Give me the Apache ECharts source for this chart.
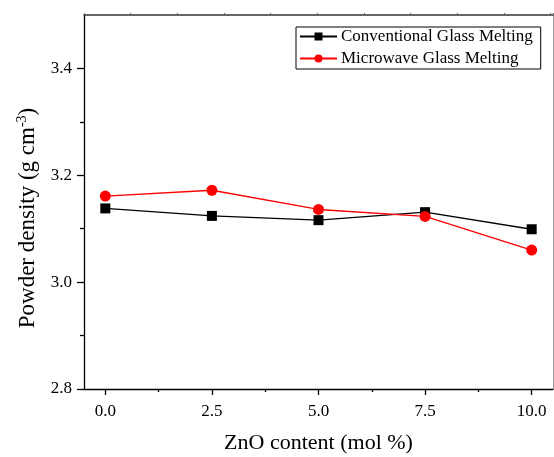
<!DOCTYPE html>
<html>
<head>
<meta charset="utf-8">
<script src="https://cdn.jsdelivr.net/npm/echarts@6/dist/echarts.min.js"></script>
<style>html,body{margin:0;padding:0;background:#fff}#c{width:554px;height:457px}</style>
</head>
<body>
<div id="c"></div>
<script>
const xValues = [0.0, 2.5, 5.0, 7.5, 10.0];
const conventional = [3.138, 3.124, 3.116, 3.131, 3.099];
const microwave = [3.161, 3.172, 3.136, 3.123, 3.060];
const seriesNames = ['Conventional Glass Melting', 'Microwave Glass Melting'];
const xTitle = 'ZnO content (mol %)';

const F = "'Liberation Serif','Times New Roman',serif";
const chart = echarts.init(document.getElementById('c'), null, {renderer: 'canvas'});
chart.setOption({
  backgroundColor: '#fff',
  animation: false,
  grid: {left: 84, right: 1, top: 15, bottom: 68, containLabel: false, outerBoundsMode: 'none'},
  legend: {
    orient: 'vertical', left: 296, top: 27,
    data: seriesNames,
    itemWidth: 37, itemHeight: 10, itemGap: 5,
    padding: [1, 8, 2, 3],
    borderColor: '#000', borderWidth: 1, backgroundColor: '#fff',
    textStyle: {fontFamily: F, fontSize: 17, color: '#000', padding: [0, 0, 0, -1]}
  },
  xAxis: [{
    type: 'value', min: -0.5, max: 10.5, interval: 2.5,
    axisLine: {onZero: false, lineStyle: {color: '#000', width: 1.3}},
    axisTick: {show: true, length: 6, lineStyle: {color: '#000', width: 1.3},
      customValues: [0, 2.5, 5, 7.5, 10]},
    axisLabel: {fontFamily: F, fontSize: 17, color: '#000', margin: 14,
      customValues: [0, 2.5, 5, 7.5, 10],
      formatter: v => v.toFixed(1)},
    splitLine: {show: false},
    name: xTitle, nameLocation: 'middle', nameGap: 43,
    nameTextStyle: {fontFamily: F, fontSize: 22, color: '#000'}
  }, {
    type: 'value', min: -0.5, max: 10.5, position: 'bottom',
    axisLine: {show: false, onZero: false},
    axisTick: {show: true, length: 3, lineStyle: {color: '#000', width: 1.3},
      customValues: [1.25, 3.75, 6.25, 8.75]},
    axisLabel: {show: false}, splitLine: {show: false}
  }, {
    type: 'value', min: 0, max: 10.05, interval: 1, position: 'top',
    axisLine: {onZero: false, lineStyle: {color: '#333', width: 1.5}},
    axisTick: {show: true, length: 2, lineStyle: {color: '#666'}},
    axisLabel: {show: false}, splitLine: {show: false}
  }],
  yAxis: [{
    type: 'value', min: 2.8, max: 3.5, interval: 0.2,
    axisLine: {show: true, onZero: false, lineStyle: {color: '#000', width: 1.3}},
    axisTick: {show: true, length: 7, lineStyle: {color: '#000', width: 1.3},
      customValues: [2.8, 3.0, 3.2, 3.4]},
    axisLabel: {fontFamily: F, fontSize: 17, color: '#000', margin: 12,
      customValues: [2.8, 3.0, 3.2, 3.4],
      formatter: v => v.toFixed(1)},
    splitLine: {show: false},
    name: 'Powder density (g cm{sup|-3})', nameLocation: 'middle', nameGap: 42,
    nameTextStyle: {fontFamily: F, fontSize: 23, color: '#000', padding: [0, 32, 0, 0],
      rich: {sup: {fontFamily: F, fontSize: 14, color: '#000', verticalAlign: 'top', padding: [0,0,12,0]}}}
  }, {
    type: 'value', min: 2.8, max: 3.5, position: 'left',
    axisLine: {show: false, onZero: false},
    axisTick: {show: true, length: 4, lineStyle: {color: '#000', width: 1.3},
      customValues: [2.9, 3.1, 3.3]},
    axisLabel: {show: false}, splitLine: {show: false}
  }, {
    type: 'value', min: 2.8, max: 3.5, position: 'right',
    axisLine: {show: true, onZero: false, lineStyle: {color: '#999', width: 1}},
    axisTick: {show: false}, axisLabel: {show: false}, splitLine: {show: false}
  }],
  series: [{
    name: seriesNames[0], type: 'line',
    data: xValues.map((x, i) => [x, conventional[i]]),
    symbol: 'rect', symbolSize: 10,
    lineStyle: {color: '#000', width: 1.3},
    itemStyle: {color: '#000'}
  }, {
    name: seriesNames[1], type: 'line',
    data: xValues.map((x, i) => [x, microwave[i]]),
    symbol: 'circle', symbolSize: 11,
    lineStyle: {color: '#ff0000', width: 1.3},
    itemStyle: {color: '#ff0000'}
  }]
});
</script>
</body>
</html>
